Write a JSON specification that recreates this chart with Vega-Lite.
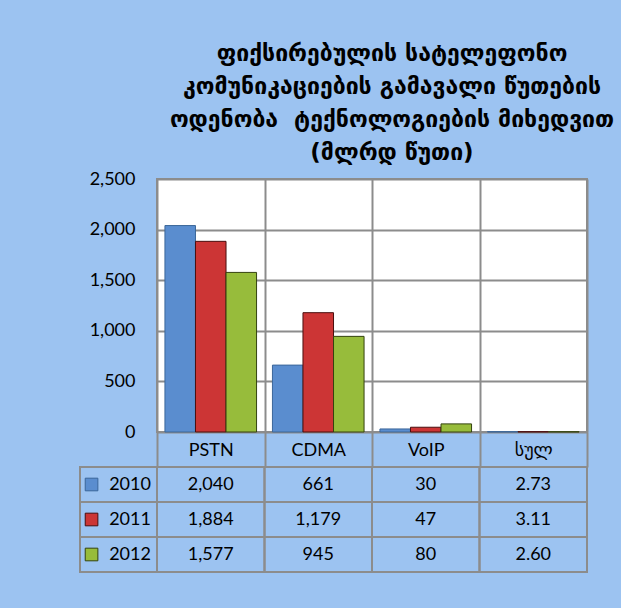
{
  "$schema": "https://vega.github.io/schema/vega-lite/v6.json",
  "background": "#9CC3F1",
  "padding": {"left": 79, "top": 43, "right": 33, "bottom": 37},
  "title": {
    "text": ["ფიქსირებულის სატელეფონო", "კომუნიკაციების გამავალი წუთების", "ოდენობა\u00a0 ტექნოლოგიების მიხედვით", "(მლრდ წუთი)"],
    "font": "DejaVu Sans",
    "fontSize": 23,
    "fontWeight": "bold",
    "lineHeight": 33,
    "color": "#000000",
    "anchor": "middle",
    "dx": 58,
    "offset": 4
  },
  "datasets": {
    "traffic": [
      {"category": "PSTN", "year": "2010", "value": 2040, "label": "2,040"},
      {"category": "PSTN", "year": "2011", "value": 1884, "label": "1,884"},
      {"category": "PSTN", "year": "2012", "value": 1577, "label": "1,577"},
      {"category": "CDMA", "year": "2010", "value": 661, "label": "661"},
      {"category": "CDMA", "year": "2011", "value": 1179, "label": "1,179"},
      {"category": "CDMA", "year": "2012", "value": 945, "label": "945"},
      {"category": "VoIP", "year": "2010", "value": 30, "label": "30"},
      {"category": "VoIP", "year": "2011", "value": 47, "label": "47"},
      {"category": "VoIP", "year": "2012", "value": 80, "label": "80"},
      {"category": "სულ", "year": "2010", "value": 2.73, "label": "2.73"},
      {"category": "სულ", "year": "2011", "value": 3.11, "label": "3.11"},
      {"category": "სულ", "year": "2012", "value": 2.6, "label": "2.60"}
    ]
  },
  "columns": 2,
  "spacing": {"row": 35, "column": 0},
  "bounds": "flush",
  "concat": [
    {
      "width": 77,
      "height": 253,
      "data": {"values": []},
      "mark": "point",
      "view": {"stroke": null}
    },
    {
      "width": 430,
      "height": 253,
      "data": {"name": "traffic"},
      "view": {"fill": "#FFFFFF", "stroke": "#8C8C8C", "strokeWidth": 2},
      "mark": {"type": "bar", "strokeWidth": 1},
      "encoding": {
        "x": {
          "field": "category",
          "type": "nominal",
          "sort": ["PSTN", "CDMA", "VoIP", "სულ"],
          "scale": {"paddingInner": 0, "paddingOuter": 0},
          "axis": {
            "title": null,
            "orient": "bottom",
            "labelAngle": 0,
            "tickBand": "extent",
            "grid": true,
            "gridColor": "#8C8C8C",
            "gridWidth": 2,
            "ticks": true,
            "tickSize": 35,
            "tickColor": "#8C8C8C",
            "tickWidth": 2,
            "labelPadding": -17,
            "labelBaseline": "middle",
            "domain": false
          }
        },
        "xOffset": {
          "field": "year",
          "type": "nominal",
          "scale": {"paddingOuter": 0.26, "paddingInner": 0}
        },
        "y": {
          "field": "value",
          "type": "quantitative",
          "scale": {"domain": [0, 2500]},
          "axis": {
            "title": null,
            "values": [0, 500, 1000, 1500, 2000, 2500],
            "format": ",d",
            "ticks": false,
            "domain": false,
            "labelPadding": 22,
            "gridColor": "#8C8C8C",
            "gridWidth": 2
          }
        },
        "color": {
          "field": "year",
          "type": "nominal",
          "scale": {"domain": ["2010", "2011", "2012"], "range": ["#5A8DCF", "#CC3535", "#97BC3B"]},
          "legend": null
        },
        "stroke": {
          "field": "year",
          "type": "nominal",
          "scale": {"domain": ["2010", "2011", "2012"], "range": ["#3B6699", "#4A0F0F", "#34430F"]},
          "legend": null
        }
      }
    },
    {
      "width": 77,
      "height": 105,
      "data": {"name": "traffic"},
      "transform": [{"filter": "datum.category === 'PSTN'"}],
      "view": {"stroke": null},
      "encoding": {
        "y": {
          "field": "year",
          "type": "nominal",
          "scale": {"paddingInner": 0, "paddingOuter": 0},
          "axis": null
        }
      },
      "layer": [
        {"mark": {"type": "rect", "fillOpacity": 0, "stroke": "#8C8C8C", "strokeWidth": 2}},
        {
          "mark": {"type": "point", "shape": "square", "filled": true, "size": 160, "opacity": 1, "strokeWidth": 1},
          "encoding": {
            "x": {"datum": "swatch", "type": "nominal", "scale": {"type": "point", "domain": ["swatch", "year"], "paddingOuter": 0.9, "align": 0.3}, "axis": null},
            "fill": {
              "field": "year",
              "type": "nominal",
              "scale": {"domain": ["2010", "2011", "2012"], "range": ["#5A8DCF", "#CC3535", "#97BC3B"]},
              "legend": null
            },
            "stroke": {
              "field": "year",
              "type": "nominal",
              "scale": {"domain": ["2010", "2011", "2012"], "range": ["#1F3550", "#3A0A0A", "#263109"]},
              "legend": null
            }
          }
        },
        {
          "mark": {"type": "text", "fontSize": 18, "color": "#000000", "font": "Lato, DejaVu Sans"},
          "encoding": {
            "x": {"datum": "year", "type": "nominal", "axis": null},
            "text": {"field": "year"}
          }
        }
      ]
    },
    {
      "width": 430,
      "height": 105,
      "data": {"name": "traffic"},
      "view": {"stroke": null},
      "encoding": {
        "x": {
          "field": "category",
          "type": "nominal",
          "sort": ["PSTN", "CDMA", "VoIP", "სულ"],
          "scale": {"paddingInner": 0, "paddingOuter": 0},
          "axis": null
        },
        "y": {
          "field": "year",
          "type": "nominal",
          "scale": {"paddingInner": 0, "paddingOuter": 0},
          "axis": null
        }
      },
      "layer": [
        {"mark": {"type": "rect", "fillOpacity": 0, "stroke": "#8C8C8C", "strokeWidth": 2}},
        {
          "mark": {"type": "text", "fontSize": 18, "color": "#000000", "font": "Lato, DejaVu Sans"},
          "encoding": {"text": {"field": "label"}}
        }
      ]
    }
  ],
  "config": {
    "font": "Lato, DejaVu Sans",
    "axis": {"labelFont": "Lato, DejaVu Sans", "labelFontSize": 18, "labelColor": "#000000"},
    "legend": {"labelFont": "Lato, DejaVu Sans"}
  }
}
